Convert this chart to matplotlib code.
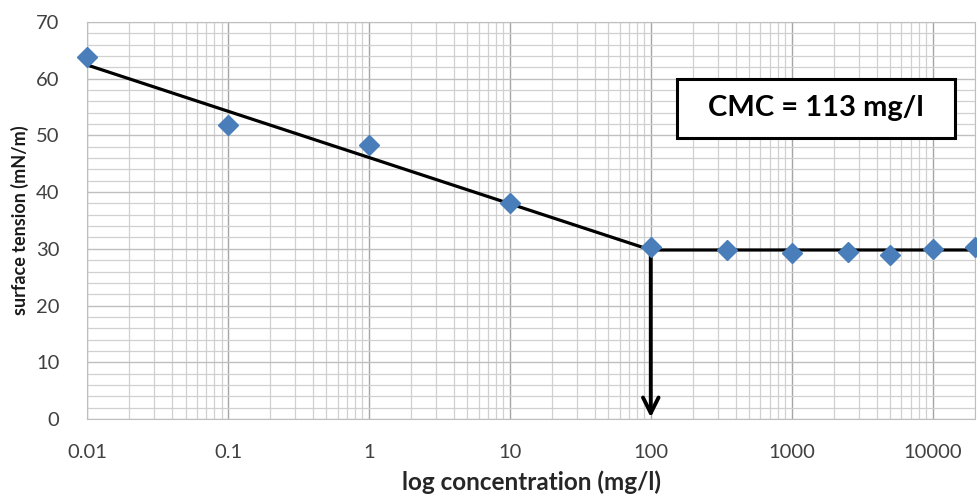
import matplotlib
matplotlib.use("Agg")
import matplotlib.pyplot as plt
from matplotlib.patches import Rectangle
from matplotlib.ticker import LogLocator, FixedLocator, MultipleLocator

# ── data ─────────────────────────────────────────────────────────────────────
conc = [0.01, 0.1, 1, 10, 100, 350, 1000, 2500, 5000, 10000, 20000]
tension = [63.8, 51.9, 48.3, 38.1, 30.3, 29.8, 29.3, 29.5, 29.0, 30.0, 30.3]

fit_x = [0.01, 100, 20000]
fit_y = [62.4, 29.8, 29.8]
cmc_x = 100
cmc_label = "CMC = 113 mg/l"

xticks = [0.01, 0.1, 1, 10, 100, 1000, 10000]
xtick_labels = ["0.01", "0.1", "1", "10", "100", "1000", "10000"]

plt.rcParams["font.family"] = ["Lato", "DejaVu Sans"]

fig = plt.figure(figsize=(9.78, 4.96), dpi=100)
ax = fig.add_axes([0.089, 0.155, 0.908, 0.801])

ax.set_xscale("log")
ax.set_xlim(0.01, 20000)
ax.set_ylim(0, 70)

# grid
ax.xaxis.set_major_locator(FixedLocator(xticks))
ax.xaxis.set_minor_locator(LogLocator(base=10, subs=range(2, 10), numticks=20))
ax.yaxis.set_major_locator(MultipleLocator(10))
ax.yaxis.set_minor_locator(MultipleLocator(2))
ax.grid(which="major", axis="x", color="#a6a6a6", linewidth=1.0)
ax.grid(which="major", axis="y", color="#bfbfbf", linewidth=1.0)
ax.grid(which="minor", color="#d0d0d0", linewidth=0.9)
ax.set_axisbelow(True)

ax.set_xticklabels(xtick_labels)
ax.tick_params(which="both", length=0)
ax.tick_params(axis="x", pad=18, labelsize=14.5, colors="#404040")
ax.tick_params(axis="y", pad=20, labelsize=14.5, colors="#404040")
for s in ax.spines.values():
    s.set_color("#bfbfbf")

# fit line + arrow
ax.plot(fit_x, fit_y, color="black", linewidth=2.3, zorder=3)
ax.annotate("", xy=(cmc_x, 0.3), xytext=(cmc_x, fit_y[1]),
            arrowprops=dict(arrowstyle="->", color="black", lw=2.8,
                            mutation_scale=28, shrinkA=0, shrinkB=0),
            zorder=4)

# data points
ax.plot(conc, tension, linestyle="none", marker="D", markersize=10,
        color="#4a7ebb", clip_on=False, zorder=5)

# CMC box
ax.add_patch(Rectangle((0.664, 0.708), 0.313, 0.149, transform=ax.transAxes,
                       facecolor="white", edgecolor="black", linewidth=2.2,
                       zorder=6))
ax.text(0.8205, 0.7825, cmc_label, transform=ax.transAxes, ha="center",
        va="center", fontsize=21, fontweight="bold", color="black", zorder=7)

ax.set_xlabel("log concentration (mg/l)", fontsize=17.5, fontweight="bold",
              color="#262626", labelpad=7)
ax.set_ylabel("surface tension (mN/m)", fontsize=13, fontweight="bold",
              color="#1a1a1a", labelpad=5)

fig.savefig("out.png", dpi=100, facecolor="white")
